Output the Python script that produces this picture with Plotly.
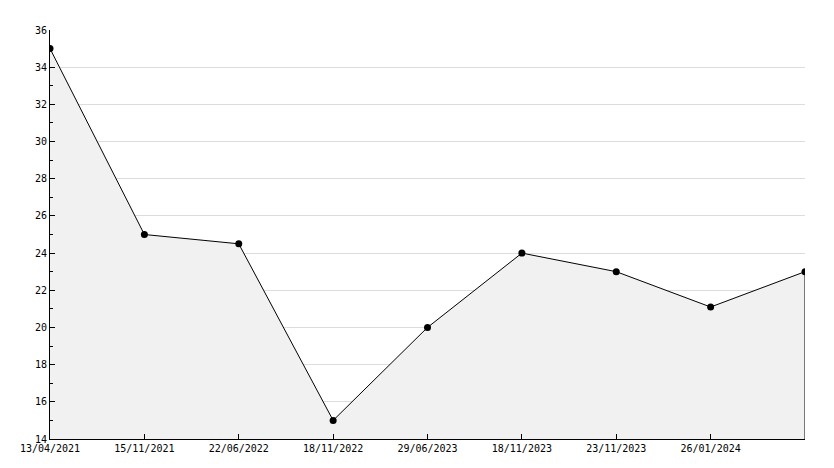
import plotly.graph_objects as go

dates = ["13/04/2021", "15/11/2021", "22/06/2022", "18/11/2022", "29/06/2023",
         "18/11/2023", "23/11/2023", "26/01/2024", "11/2025"]
values = [35, 25, 24.5, 15, 20, 24, 23, 21.1, 23]
idx = list(range(len(dates)))

fig = go.Figure()
fig.add_trace(go.Scatter(
    x=idx, y=values, mode="lines+markers", fill="tozeroy",
    fillcolor="#f1f1f1", line=dict(color="black", width=1),
    marker=dict(color="black", size=7, symbol="circle"),
))
# right edge of the filled area
fig.add_shape(type="line", x0=idx[-1], x1=idx[-1], y0=14, y1=values[-1],
              line=dict(color="black", width=1))

# page has an 8px body margin, so the figure is sized to fit inside it
fig.update_layout(
    width=818, height=452, margin=dict(l=42, r=21, t=22, b=21, autoexpand=False),
    plot_bgcolor="white", paper_bgcolor="white", showlegend=False,
    font=dict(family="DejaVu Sans Mono", size=10, color="black"),
)
fig.update_xaxes(range=[0, 8], tickvals=idx, ticktext=dates, showgrid=False,
                 zeroline=False, showline=True, linecolor="black",
                 ticks="inside", ticklen=5, tickcolor="black", automargin=False)
fig.update_yaxes(range=[14, 36], dtick=2, showgrid=True, gridcolor="#dddddd",
                 zeroline=False, showline=True, linecolor="black",
                 ticks="inside", ticklen=5, tickcolor="black", automargin=False,
                 minor=dict(dtick=1, ticks="inside", ticklen=3, tickcolor="black", showgrid=False))
fig.write_html("out.html")
